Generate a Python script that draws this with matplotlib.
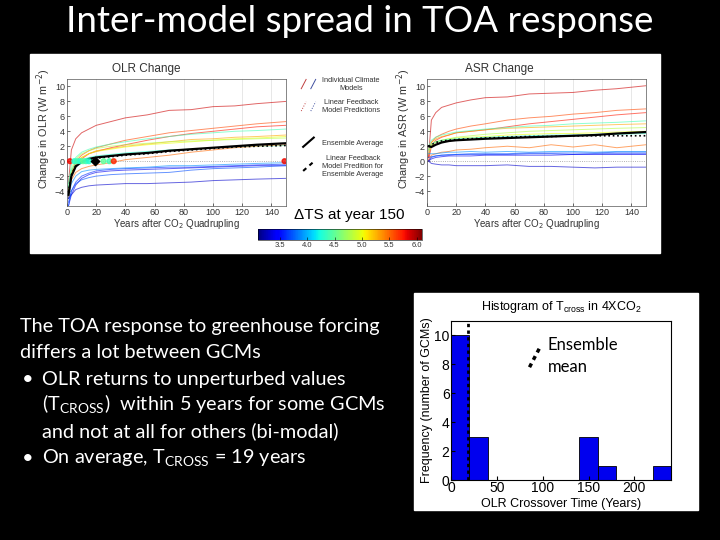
import matplotlib.pyplot as plt
import matplotlib.colors as mcolors
from matplotlib.cm import ScalarMappable
from matplotlib.lines import Line2D
from matplotlib.patches import Rectangle
from matplotlib.legend_handler import HandlerLine2D, HandlerTuple

plt.rcParams['font.family'] = ['Liberation Sans', 'DejaVu Sans']

# ---- data ----
years = [1, 3, 6, 10, 15, 20, 30, 40, 55, 70, 85, 100, 115, 130, 150]
# surface warming at year 150 for each model (colour)
dts = [5.9, 5.6, 5.75, 5.3, 5.0, 4.8, 4.4, 4.3, 5.5, 3.6, 3.4, 3.9, 3.3, 3.7]
olr = [
    [-3.0, 1.5, 3.0, 3.8, 4.3, 4.8, 5.3, 5.8, 6.2, 6.8, 6.9, 7.3, 7.4, 7.7, 8.0],
    [-4.0, -1.5, 0.0, 0.8, 1.4, 1.8, 2.3, 2.8, 3.3, 3.8, 4.1, 4.4, 4.7, 5.0, 5.3],
    [-5.0, -2.0, -0.5, 0.3, 1.0, 1.3, 1.8, 2.2, 2.8, 3.3, 3.7, 4.0, 4.3, 4.6, 4.8],
    [-4.5, -1.8, -0.3, 0.5, 1.0, 1.4, 1.7, 2.0, 2.3, 2.6, 2.9, 3.0, 3.2, 3.3, 3.5],
    [-4.0, -1.5, -0.2, 0.5, 1.0, 1.3, 1.6, 1.9, 2.2, 2.4, 2.6, 2.8, 3.0, 3.1, 3.3],
    [-3.5, -1.0, 0.3, 1.0, 1.4, 1.7, 2.0, 2.2, 2.4, 2.6, 2.7, 2.8, 2.9, 3.0, 3.1],
    [-3.0, -0.5, 0.5, 1.2, 1.6, 1.9, 2.3, 2.6, 3.0, 3.3, 3.6, 3.8, 4.0, 4.1, 4.3],
    [-3.5, -1.2, -0.3, 0.2, 0.5, 0.7, 0.9, 1.1, 1.3, 1.5, 1.6, 1.8, 1.9, 2.0, 2.1],
    [-5.0, -2.5, -1.5, -1.0, -0.7, -0.5, -0.2, 0.2, 0.5, 0.8, 1.2, 1.5, 1.8, 2.0, 2.2],
    [-5.5, -4.0, -2.8, -2.0, -1.6, -1.3, -1.1, -1.0, -0.9, -0.8, -0.8, -0.7, -0.6, -0.5, -0.4],
    [-6.0, -4.5, -3.2, -2.3, -1.8, -1.5, -1.3, -1.2, -1.1, -1.0, -0.9, -0.8, -0.7, -0.6, -0.6],
    [-5.0, -3.0, -2.0, -1.4, -1.2, -1.1, -1.0, -0.9, -0.8, -0.6, -0.6, -0.5, -0.4, -0.3, -0.2],
    [-5.0, -4.5, -3.8, -3.5, -3.3, -3.2, -3.1, -3.0, -3.0, -2.9, -2.8, -2.6, -2.5, -2.4, -2.3],
    [-6.0, -4.0, -3.0, -2.5, -2.2, -2.0, -1.8, -1.7, -1.6, -1.5, -1.2, -1.0, -0.9, -0.8, -0.6],
]
asr = [
    [0.5, 5.5, 6.5, 7.2, 7.5, 7.8, 8.2, 8.5, 8.6, 9.0, 9.1, 9.2, 9.5, 9.7, 10.1],
    [0.5, 2.5, 3.2, 3.6, 4.0, 4.3, 4.7, 5.0, 5.5, 5.8, 6.0, 6.3, 6.5, 6.8, 7.0],
    [0.0, 2.0, 2.8, 3.2, 3.5, 3.8, 4.0, 4.2, 4.6, 5.0, 5.3, 5.6, 5.9, 6.2, 6.5],
    [1.5, 2.5, 3.0, 3.3, 3.5, 3.8, 4.0, 4.2, 4.4, 4.5, 4.6, 4.7, 4.8, 4.9, 5.0],
    [1.5, 2.2, 2.6, 2.8, 3.0, 3.1, 3.2, 3.3, 3.5, 3.6, 3.7, 3.7, 3.8, 3.9, 4.0],
    [1.0, 2.0, 2.5, 2.8, 3.0, 3.2, 3.4, 3.6, 3.8, 4.0, 4.1, 4.2, 4.3, 4.4, 4.5],
    [2.0, 2.8, 3.2, 3.5, 3.7, 3.9, 4.1, 4.3, 4.5, 4.7, 4.8, 5.0, 5.1, 5.2, 5.4],
    [1.5, 2.3, 2.6, 2.8, 2.9, 3.0, 3.1, 3.2, 3.3, 3.4, 3.5, 3.5, 3.6, 3.6, 3.7],
    [0.0, 0.8, 1.0, 1.2, 1.3, 1.5, 1.6, 1.8, 2.0, 1.8, 2.2, 1.9, 2.2, 1.8, 2.2],
    [0.0, 0.5, 0.7, 0.8, 0.8, 0.9, 0.9, 0.9, 0.9, 1.0, 1.0, 0.9, 1.0, 1.0, 1.0],
    [0.0, 0.3, 0.5, 0.6, 0.7, 0.7, 0.7, 0.8, 0.8, 0.8, 0.8, 0.9, 0.9, 0.9, 0.9],
    [1.0, 1.0, 1.0, 1.1, 1.2, 1.2, 1.3, 1.2, 1.3, 1.2, 1.3, 1.3, 1.2, 1.3, 1.3],
    [0.0, -0.3, -0.4, -0.5, -0.5, -0.6, -0.6, -0.6, -0.5, -0.7, -0.7, -0.8, -0.9, -0.8, -0.8],
    [0.5, 0.6, 0.7, 0.8, 0.9, 0.9, 1.0, 1.0, 1.0, 1.1, 1.1, 1.1, 1.1, 1.2, 1.2],
]
ens_olr = [-4.5, -2.0, -0.7, -0.1, 0.3, 0.5, 0.7, 0.9, 1.1, 1.4, 1.6, 1.8, 2.0, 2.2, 2.4]
ens_olr_fit = [-4.2, -1.8, -0.6, -0.1, 0.2, 0.4, 0.6, 0.8, 1.0, 1.3, 1.5, 1.7, 1.9, 2.0, 2.1]
ens_asr = [2.0, 1.9, 2.2, 2.5, 2.7, 2.8, 2.9, 3.0, 3.1, 3.2, 3.3, 3.4, 3.5, 3.7, 3.9]
ens_asr_fit = [2.0, 2.2, 2.5, 2.7, 2.8, 2.9, 3.0, 3.1, 3.2, 3.3, 3.3, 3.4, 3.4, 3.4, 3.4]

# crossover markers on the OLR panel
cross_t = [2, 5, 7, 9, 11, 13, 15, 25, 29, 32, 149]
cross_dts = [5.8, 4.3, 4.4, 4.3, 4.5, 4.4, 4.3, 4.5, 4.4, 5.7, 5.8]
ens_cross = 19

# histogram of crossover time
bin_left = [0, 20, 40, 60, 80, 100, 120, 140, 160, 180, 200, 220]
counts = [10, 3, 0, 0, 0, 0, 0, 3, 1, 0, 0, 1]


class DiagHandler(HandlerLine2D):
    # legend key drawn as a short slanted stroke
    def create_artists(self, legend, orig_handle, xdescent, ydescent,
                       width, height, fontsize, trans):
        x0, x1 = -xdescent + 0.2 * width, -xdescent + 0.8 * width
        y0, y1 = -ydescent - 0.4 * height, -ydescent + 1.4 * height
        line = Line2D([x0, x1], [y0, y1])
        self.update_prop(line, orig_handle, legend)
        line.set_transform(trans)
        return [line]


fig = plt.figure(figsize=(7.2, 5.4), dpi=100, facecolor='black')
W, H = 720, 540


def box(x0, y0, x1, y1):
    return [x0 / W, 1 - y1 / H, (x1 - x0) / W, (y1 - y0) / H]


fig.add_artist(Rectangle((30 / W, 1 - 253 / H), 630 / W, 199 / H,
                         transform=fig.transFigure, color='white', zorder=0))
fig.add_artist(Rectangle((414 / W, 1 - 510 / H), 284 / W, 217 / H,
                         transform=fig.transFigure, color='white', zorder=0))

norm = mcolors.Normalize(vmin=3.1, vmax=6.1)
cmap = plt.get_cmap('jet')

ax1 = fig.add_axes(box(67, 79, 286, 206))
ax2 = fig.add_axes(box(427, 79, 646, 206))
for ax, series, ens, fit, name, tx in [(ax1, olr, ens_olr, ens_olr_fit, 'OLR', 0.36),
                                       (ax2, asr, ens_asr, ens_asr_fit, 'ASR', 0.33)]:
    for vals, t in zip(series, dts):
        ax.plot(years, vals, color=cmap(norm(t)), lw=0.7, alpha=0.6)
    ax.axhline(0, color='#999999', ls=':', lw=0.6)
    ax.plot(years, ens, color='black', lw=1.6)
    ax.plot(years, fit, color='black', ls=':', lw=1.2)
    ax.set_xlim(0, 150)
    ax.set_ylim(-6, 11)
    ax.set_xticks(range(0, 141, 20))
    ax.set_yticks(range(-4, 11, 2))
    ax.tick_params(direction='in', labelsize=6.5, length=2, width=0.4, pad=1.5,
                   labelcolor='#333333')
    ax.grid(axis='x', color='#dddddd', lw=0.5)
    for s in ax.spines.values():
        s.set_linewidth(0.5)
        s.set_color('#555555')
    ax.set_title(name + ' Change', fontsize=8.5, pad=5, color='#333333', x=tx)
    ax.set_xlabel('Years after CO$_2$ Quadrupling', fontsize=7, labelpad=0, color='#333333')
    ax.set_ylabel('Change in ' + name + ' (W m$^{-2}$)', fontsize=7.8, color='#333333')
    ax.yaxis.set_label_coords(-0.065, 0.61)

ax1.scatter(cross_t, [0] * len(cross_t), c=cross_dts, cmap=cmap, norm=norm,
            s=12, zorder=4, alpha=0.8)
ax1.scatter([ens_cross], [0], marker='D', color='black', s=18, zorder=5)

# legend in the middle of the top figure (two blocks)
hmap = {Line2D: DiagHandler(), tuple: HandlerTuple(ndivide=None, pad=0.2)}
h_model = (Line2D([], [], color='#c04040', lw=0.7), Line2D([], [], color='#4050a0', lw=0.7))
h_pred = (Line2D([], [], color='#c04040', lw=0.7, ls=':'), Line2D([], [], color='#4050a0', lw=0.7, ls=':'))
h_ens = Line2D([], [], color='black', lw=1.5)
h_fit = Line2D([], [], color='black', lw=1.5, ls=(0, (2, 2)))
leg_a = fig.legend([h_model, h_pred],
                   ['Individual Climate\nModels', 'Linear Feedback\nModel Predictions'],
                   loc='upper left', bbox_to_anchor=(293 / W, 1 - 70 / H),
                   frameon=False, fontsize=5.3, labelspacing=1.0, handlelength=2.4,
                   handletextpad=0.7, handler_map=hmap)
leg_b = fig.legend([h_ens, h_fit],
                   ['Ensemble Average',
                    'Linear Feedback\nModel Predition for\nEnsemble Average'],
                   loc='upper left', bbox_to_anchor=(293 / W, 1 - 133 / H),
                   frameon=False, fontsize=5.3, labelspacing=1.1, handlelength=2.4,
                   handletextpad=0.7, handler_map=hmap)
for lg in (leg_a, leg_b):
    for t in lg.get_texts():
        t.set_multialignment('center')
        t.set_color('#333333')

fig.text(294 / W, 1 - 215 / H, 'ΔTS at year 150', fontsize=11, va='center', ha='left')
cax = fig.add_axes(box(258, 229, 422, 240))
cb = fig.colorbar(ScalarMappable(norm=norm, cmap=cmap), cax=cax, orientation='horizontal',
                  ticks=[3.5, 4.0, 4.5, 5.0, 5.5, 6.0])
cb.ax.set_xticklabels(['3.5', '4.0', '4.5', '5.0', '5.5', '6.0'])
cb.ax.tick_params(labelsize=5.5, length=2, width=0.4, direction='in', pad=1.5,
                  labelcolor='#333333')
cb.outline.set_linewidth(0.4)

# histogram
ax3 = fig.add_axes(box(451, 321, 671, 480))
ax3.bar(bin_left, counts, width=20, align='edge', color='#0000ee', edgecolor='black', lw=0.6)
ax3.axvline(ens_cross, color='black', lw=2, ls=(0, (1.2, 1.2)))
ax3.set_xlim(0, 240)
ax3.set_ylim(0, 11)
ax3.set_xticks([0, 50, 100, 150, 200])
ax3.set_yticks([0, 2, 4, 6, 8, 10])
ax3.tick_params(direction='in', labelsize=10, length=3, pad=1)
ax3.set_title('Histogram of T$_\\mathregular{cross}$ in 4XCO$_\\mathregular{2}$', fontsize=9, pad=8)
ax3.set_xlabel('OLR Crossover Time (Years)', fontsize=9, labelpad=2)
ax3.set_ylabel('Frequency (number of GCMs)', fontsize=9, labelpad=1)
leg2 = ax3.legend([Line2D([], [], color='black', lw=2.5, ls=(0, (1.2, 1.2)))],
                  ['Ensemble\nmean'], loc='upper left', bbox_to_anchor=(0.272, 0.995),
                  frameon=False, handlelength=1.1, handletextpad=0.2,
                  prop={'family': 'Lato', 'size': 12},
                  handler_map={Line2D: DiagHandler()})
leg2.get_texts()[0].set_linespacing(1.5)

# slide title and text
fig.text(0.5, 1 - 22 / H, 'Inter-model spread in TOA response', color='white',
         fontsize=26.5, family='Lato', ha='center', va='center')
lines = [
    (20, 332, 'The TOA response to greenhouse forcing'),
    (20, 358, 'differs a lot between GCMs'),
    (42, 385, 'OLR returns to unperturbed values'),
    (42, 411, '(T$_\\mathregular{CROSS}$)  within 5 years for some GCMs'),
    (42, 437, 'and not at all for others (bi-modal)'),
    (42, 464, 'On average, T$_\\mathregular{CROSS}$ = 19 years'),
]
for x, y, s in lines:
    fig.text(x / W, 1 - y / H, s, color='white', fontsize=14.3, family='Lato', va='baseline')
for y in [385, 464]:
    fig.text(22 / W, 1 - y / H, '•', color='white', fontsize=14.3, family='Lato', va='baseline')

fig.savefig('out.png', dpi=100, facecolor='black')
